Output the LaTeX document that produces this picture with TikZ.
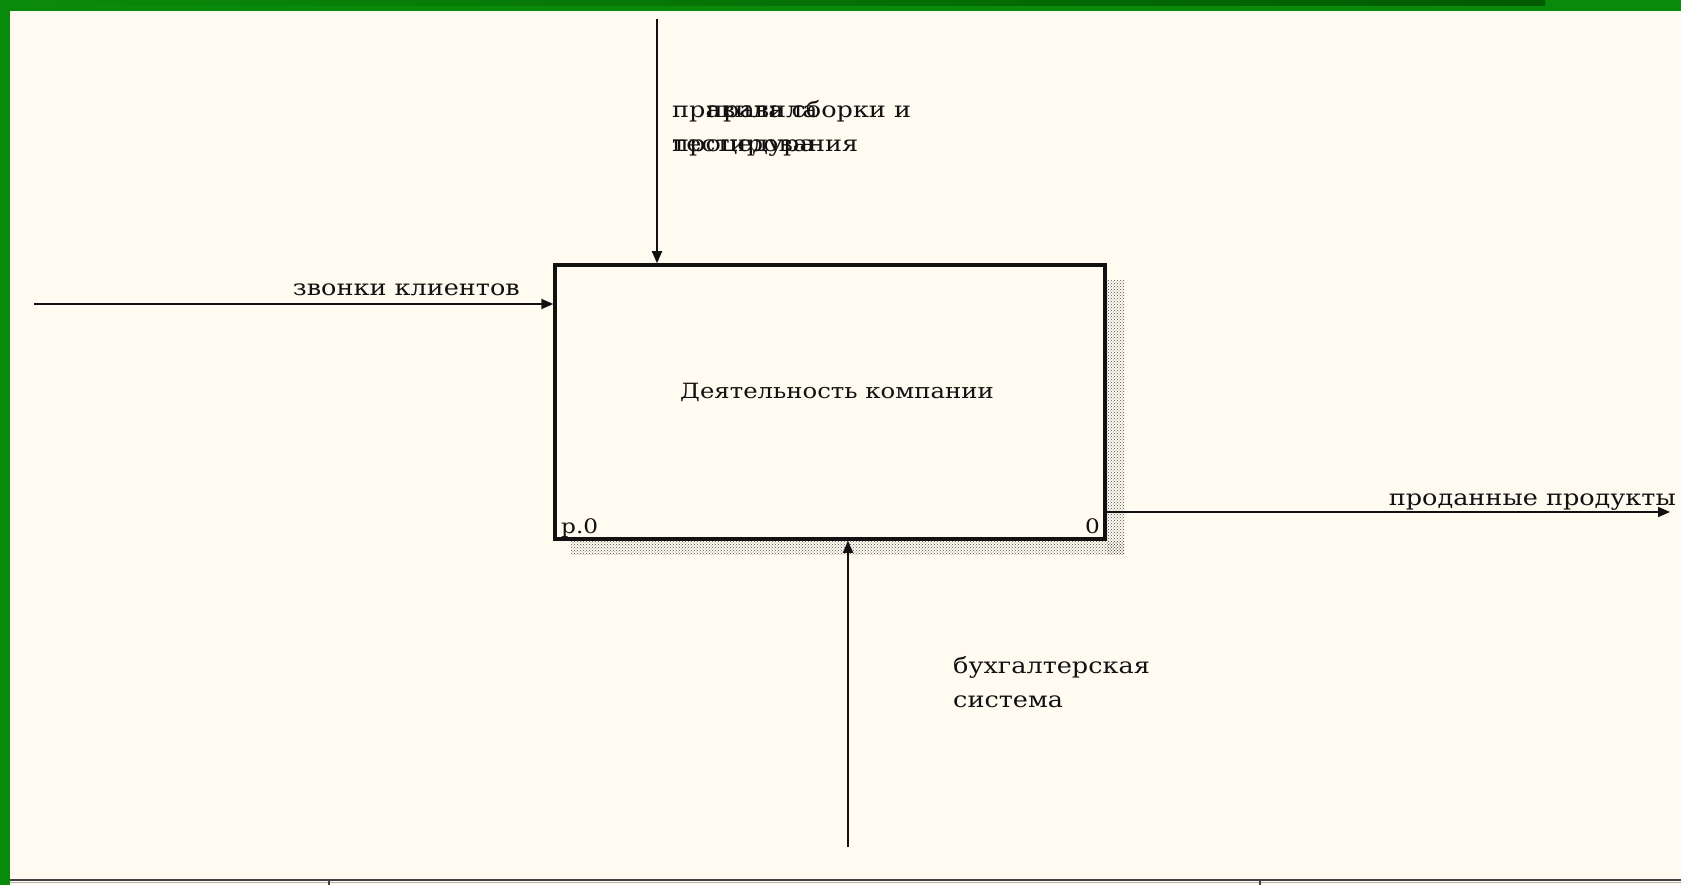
\documentclass[tikz,border=0pt]{standalone}
\usepackage{fontspec}
\setmainfont[FakeStretch=1.16]{DejaVu Serif}
\usetikzlibrary{arrows.meta,patterns}
\definecolor{paper}{HTML}{FFFBF0}
\definecolor{frame}{HTML}{0A8A0A}
\definecolor{framedark}{HTML}{005A00}
\definecolor{ink}{HTML}{111111}
\tikzset{
  lbl/.style={font=\fontsize{22}{34}\selectfont, inner sep=0pt, text=ink, align=left},
  flow/.style={draw=ink, line width=1.7pt, -{Triangle[length=12pt,width=10pt]}},
  activity/.style={draw=ink, line width=3.5pt, minimum width=550pt, minimum height=274pt, inner sep=0pt}
}
\begin{document}
\begin{tikzpicture}[x=1pt,y=-1pt]
\useasboundingbox (0,0) rectangle (1681,885);
% page and window frame
\fill[paper] (0,0) rectangle (1681,885);
\fill[frame] (0,0) rectangle (1681,11);
\shade[left color=frame, right color=framedark] (12,0) rectangle (1545,6);
\fill[frame] (0,0) rectangle (10,885);
% status bar at the bottom
\draw[ink!80, line width=1.5pt] (10,880) -- (1681,880);
\draw[gray!60, line width=1pt] (10,882.5) -- (1681,882.5);
\draw[ink!80, line width=1.2pt] (329,880) -- (329,885);
\draw[ink!80, line width=1.2pt] (1260,880) -- (1260,885);

% shadow of the activity box
\fill[pattern=crosshatch dots, pattern color=black!70] (1107,281) rectangle (1124,554);
\fill[pattern=crosshatch dots, pattern color=black!70] (571,541) rectangle (1124,554);

% the activity box
\node[activity, fill=paper] (act) at (830,402) {};
\node[lbl, font=\fontsize{21}{26}\selectfont] (actname) at (837,392) {Деятельность компании};
\node[lbl, anchor=base west, font=\fontsize{20}{24}\selectfont] (num) at (561,533) {р.0};
\node[lbl, anchor=base east, font=\fontsize{20}{24}\selectfont] (zero) at (1100,533) {0};

% free ends of the arrows
\coordinate (ctrlsrc) at (657,19);
\coordinate (insrc) at (34,304);
\coordinate (outdst) at (1670,512);
\coordinate (mechsrc) at (848,847);

% control: two labels written over each other
\draw[flow] (ctrlsrc) -- (ctrlsrc |- act.north);
\node[lbl, anchor=base west] (ctrl) at (672,152) {правила сборки и\\тестирования};
\node[lbl, anchor=base west] (ctrl2) at (706,118) {правила};
\node[lbl, anchor=base west] (ctrl3) at (672,152) {процедура};
% input
\draw[flow] (insrc) -- (insrc -| act.west);
\node[lbl, anchor=base east] (in) at (520,295) {звонки клиентов};
% output
\draw[flow] (outdst -| act.east) -- (outdst);
\node[lbl, anchor=base east] (out) at (1676,505) {проданные продукты};
% mechanism
\draw[flow] (mechsrc) -- (mechsrc |- act.south);
\node[lbl, anchor=base west] (mech) at (953,707) {бухгалтерская\\система};
\end{tikzpicture}
\end{document}
